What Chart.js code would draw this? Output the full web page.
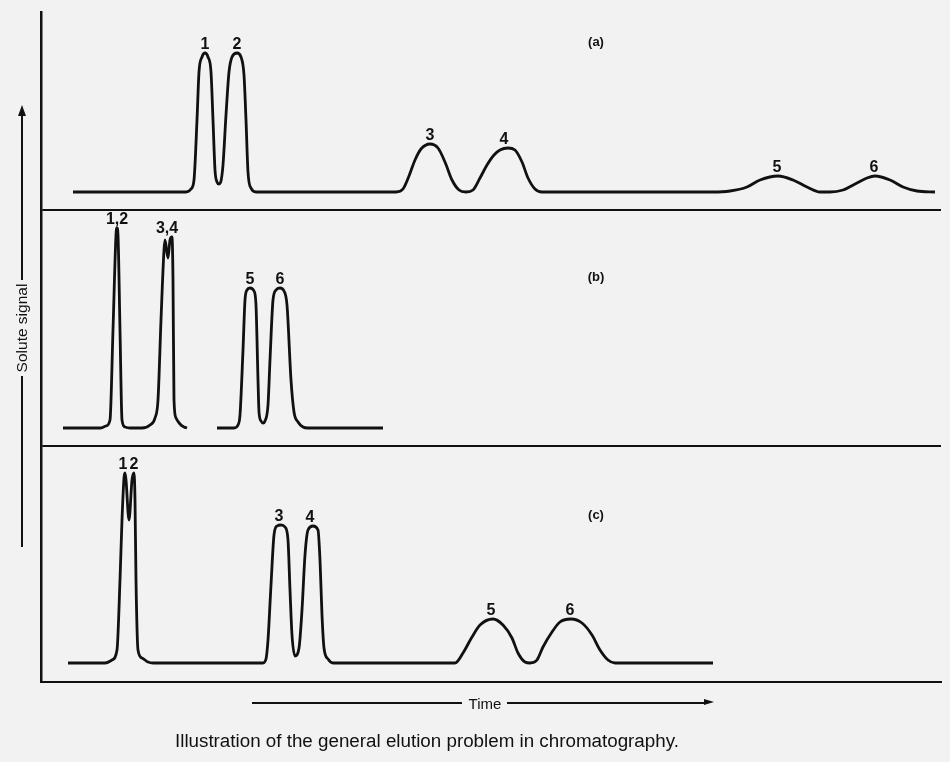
<!DOCTYPE html>
<html>
<head>
<meta charset="utf-8">
<title>General elution problem</title>
<script src="https://cdn.jsdelivr.net/npm/chart.js@4.4.1/dist/chart.umd.min.js"></script>
<style>
  html, body { margin: 0; padding: 0; background: #f2f2f2; }
  #wrap { position: relative; width: 950px; height: 762px; overflow: hidden;
          font-family: "Liberation Sans", Arial, sans-serif; color: #111; }
  #chart { position: absolute; left: 0; top: 0; }
  .rule { position: absolute; background: #111; }
  .head-up { position: absolute; width: 0; height: 0;
             border-left: 4px solid transparent; border-right: 4px solid transparent;
             border-bottom: 11px solid #111; }
  .head-right { position: absolute; width: 0; height: 0;
                border-top: 3.5px solid transparent; border-bottom: 3.5px solid transparent;
                border-left: 10px solid #111; }
  .txt { position: absolute; white-space: nowrap; line-height: 1; }
  #signal { left: 22px; top: 328px; font-size: 15.5px; transform: translate(-50%, -50%) rotate(-90deg); }
  #time { left: 485px; top: 703px; font-size: 15px; transform: translate(-50%, -50%); }
  #caption { left: 175px; top: 732px; font-size: 18.8px; }
</style>
</head>
<body>
<div id="wrap">
  <canvas id="chart" width="950" height="762"></canvas>

  <!-- signal axis arrow -->
  <div class="head-up" style="left:18px; top:105px"></div>
  <div class="rule" style="left:21px; top:114px; width:2px; height:166px"></div>
  <div class="rule" style="left:21px; top:376px; width:2px; height:171px"></div>
  <div class="txt" id="signal">Solute signal</div>

  <!-- time arrow -->
  <div class="rule" style="left:252px; top:702px; width:210px; height:1.5px"></div>
  <div class="rule" style="left:507px; top:702px; width:198px; height:1.5px"></div>
  <div class="head-right" style="left:704px; top:699px"></div>
  <div class="txt" id="time">Time</div>

  <div class="txt" id="caption">Illustration of the general elution problem in chromatography.</div>
</div>

<script>
// Chromatograms as [time, signal] pairs; baseline = 0
const traceA = [
  [3.2, 0], [14.5, 0], [15.0, 0.3], [15.3, 1.2], [15.6, 7.2], [15.8, 12.0], [16.1, 13.5], [16.4, 13.9],
  [16.7, 13.5], [17.0, 12.0], [17.2, 7.2], [17.4, 2.2], [17.6, 1.0], [17.8, 0.8], [18.0, 1.1], [18.2, 2.7],
  [18.5, 7.7], [18.8, 12.0], [19.1, 13.5], [19.6, 13.9], [20.0, 13.5], [20.3, 11.7], [20.5, 7.2], [20.7, 2.0],
  [21.0, 0.4], [21.5, 0],
  [35.5, 0], [36.2, 0.3], [36.8, 1.6], [37.4, 3.2], [38.0, 4.3], [38.9, 4.8], [39.7, 4.4], [40.4, 3.0],
  [41.1, 1.2], [41.8, 0.2], [42.5, 0], [43.2, 0.2], [43.9, 1.4], [44.6, 2.7], [45.3, 3.7], [45.9, 4.2],
  [46.7, 4.4], [47.4, 4.2], [48.1, 3.0], [48.7, 1.4], [49.4, 0.3], [50.1, 0],
  [67.2, 0], [68.9, 0.1], [70.6, 0.5], [71.9, 1.2], [73.7, 1.6], [75.2, 1.2], [76.6, 0.5], [77.9, 0],
  [78.9, 0], [80.2, 0.2], [81.6, 0.9], [82.6, 1.4], [83.4, 1.6], [84.9, 1.2], [86.2, 0.5], [87.6, 0.1],
  [89.4, 0]
];

const traceB1 = [
  [2.2, 0], [5.9, 0], [6.5, 0.2], [6.9, 0.8], [7.2, 9.8], [7.5, 19.3], [7.6, 20.0], [7.7, 19.3],
  [7.9, 9.8], [8.1, 0.8], [8.4, 0.1], [8.9, 0],
  [10.1, 0], [10.9, 0.3], [11.4, 1.0], [11.7, 2.8], [12.0, 10.8], [12.3, 17.8], [12.4, 18.8], [12.7, 17.0],
  [12.9, 18.8], [13.1, 19.1], [13.2, 14.8], [13.3, 2.8], [13.5, 1.0], [13.9, 0.4], [14.3, 0.1], [14.6, 0]
];

const traceB2 = [
  [17.6, 0], [19.3, 0], [19.7, 0.3], [19.9, 1.3], [20.2, 7.8], [20.4, 12.8], [20.6, 13.8], [20.9, 14.0],
  [21.3, 13.7], [21.5, 12.3], [21.7, 4.8], [21.8, 1.6], [22.0, 0.7], [22.2, 0.5], [22.4, 0.7], [22.7, 2.3],
  [22.9, 6.8], [23.2, 12.8], [23.5, 13.8], [23.9, 14.0], [24.3, 13.7], [24.6, 12.3], [25.0, 4.8], [25.3, 1.6],
  [25.7, 0.6], [26.2, 0.1], [26.7, 0], [34.2, 0]
];

const traceC = [
  [2.7, 0], [6.4, 0], [7.1, 0.3], [7.6, 1.3], [7.9, 8.3], [8.1, 14.3], [8.3, 18.5], [8.4, 19.0],
  [8.5, 18.3], [8.8, 14.3], [9.1, 18.3], [9.3, 19.0], [9.4, 16.3], [9.5, 8.3], [9.7, 1.3], [10.1, 0.5],
  [10.7, 0.1], [11.2, 0],
  [22.2, 0], [22.5, 0.4], [22.7, 2.3], [23.0, 7.8], [23.3, 12.8], [23.6, 13.7], [24.0, 13.8], [24.4, 13.6],
  [24.7, 12.3], [24.9, 7.3], [25.1, 2.8], [25.4, 0.7], [25.8, 1.5], [26.1, 5.3], [26.4, 10.8], [26.7, 13.3],
  [27.2, 13.7], [27.7, 13.3], [27.9, 10.3], [28.1, 4.8], [28.3, 1.5], [28.7, 0.4], [29.2, 0],
  [41.4, 0], [42.2, 1.0], [43.1, 2.6], [43.9, 3.8], [45.2, 4.4], [46.2, 3.8], [47.1, 2.5], [47.7, 1.0],
  [48.4, 0.1], [48.9, 0], [49.6, 0.3], [50.2, 1.6], [51.1, 3.1], [51.9, 4.1], [53.0, 4.4], [54.1, 4.0],
  [55.1, 2.8], [55.9, 1.3], [56.7, 0.3], [57.4, 0], [67.2, 0]
];

// peak numbering: name, time of label, peak top
const peakNamesA = ['1', '2', '3', '4', '5', '6'];
const peakTimesA = [16.4, 19.6, 38.9, 46.3, 73.6, 83.3];
const peakTopsA = [13.9, 13.9, 4.8, 4.4, 1.6, 1.6];

const peakNamesB = ['1,2', '3,4', '5', '6'];
const peakTimesB = [7.6, 12.6, 20.9, 23.9];
const peakTopsB = [20.0, 19.1, 14.0, 14.0];

const peakNamesC = ['1', '2', '3', '4', '5', '6'];
const peakTimesC = [8.2, 9.3, 23.8, 26.9, 45.0, 52.9];
const peakTopsC = [19.0, 19.0, 13.8, 13.7, 4.4, 4.4];

const panelTags = ['(a)', '(b)', '(c)'];
const panelAxes = ['yA', 'yB', 'yC'];
const tagTime = 55.5;
const tagSignals = [15.0, 15.1, 14.8];

const INK = '#111';
const FONT = '"Liberation Sans", Arial, sans-serif';

const peakSets = [
  { axis: 'yA', names: peakNamesA, times: peakTimesA, tops: peakTopsA },
  { axis: 'yB', names: peakNamesB, times: peakTimesB, tops: peakTopsB },
  { axis: 'yC', names: peakNamesC, times: peakTimesC, tops: peakTopsC },
];

const toPoints = trace => trace.map(([x, y]) => ({ x, y }));

const line = (trace, axis) => ({
  data: toPoints(trace),
  yAxisID: axis,
  borderColor: INK,
  borderWidth: 2.8,
  pointRadius: 0,
  fill: false,
  cubicInterpolationMode: 'monotone',
});

// one stacked panel per chromatogram; grid shows only the panel's bottom edge
const panelAxis = (min, max, weight, divider) => ({
  type: 'linear',
  position: 'left',
  stack: 'panels',
  stackWeight: weight,
  min, max,
  bounds: 'data',
  afterBuildTicks: scale => { scale.ticks = [{ value: scale.min }]; },
  ticks: { display: false },
  grid: { display: divider, drawTicks: false, color: INK, lineWidth: 2 },
  border: { display: true, color: INK, width: 2.5 },
});

// labels over peaks and the (a)/(b)/(c) tags
const peakLabels = {
  id: 'peakLabels',
  afterDatasetsDraw(chart) {
    const { ctx, scales } = chart;
    const xs = scales.x;
    ctx.save();
    ctx.fillStyle = INK;
    ctx.textAlign = 'center';
    ctx.textBaseline = 'alphabetic';
    ctx.font = 'bold 16px ' + FONT;
    peakSets.forEach(set => {
      const ys = scales[set.axis];
      set.names.forEach((name, i) => {
        ctx.fillText(name, xs.getPixelForValue(set.times[i]), ys.getPixelForValue(set.tops[i]) - 4);
      });
    });
    ctx.font = 'bold 13px ' + FONT;
    ctx.textBaseline = 'middle';
    panelTags.forEach((tag, i) => {
      ctx.fillText(tag, xs.getPixelForValue(tagTime), scales[panelAxes[i]].getPixelForValue(tagSignals[i]));
    });
    ctx.restore();
  }
};

new Chart(document.getElementById('chart'), {
  type: 'line',
  data: {
    datasets: [
      line(traceA, 'yA'),
      line(traceB1, 'yB'),
      line(traceB2, 'yB'),
      line(traceC, 'yC'),
    ]
  },
  plugins: [peakLabels],
  options: {
    responsive: false,
    animation: false,
    parsing: false,
    layout: { padding: { left: 41, right: 9, top: 12, bottom: 80 } },
    plugins: { legend: { display: false }, tooltip: { enabled: false } },
    scales: {
      x: {
        type: 'linear',
        min: 0, max: 90,
        bounds: 'data',
        ticks: { display: false },
        grid: { display: false, drawTicks: false },
        border: { display: true, color: INK, width: 2 },
      },
      // later left boxes stack on top
      yC: panelAxis(-1.9, 21.7, 23.6, false),
      yB: panelAxis(-1.8, 21.8, 23.6, true),
      yA: panelAxis(-1.8, 18.0, 19.8, true),
    }
  }
});
</script>
</body>
</html>
